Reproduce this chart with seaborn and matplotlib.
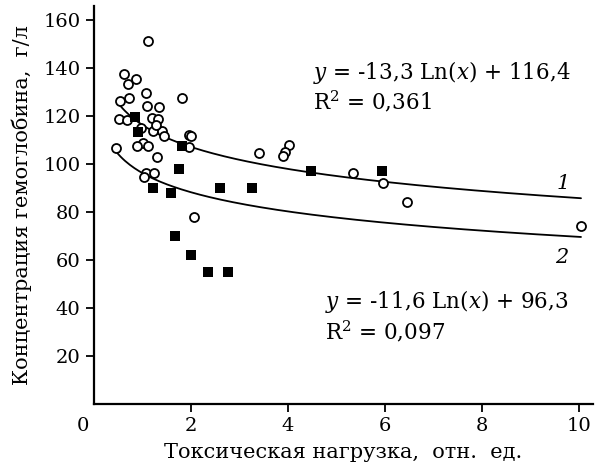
import numpy as np
import pandas as pd
import seaborn as sns
import matplotlib.pyplot as plt
from matplotlib.transforms import ScaledTranslation

# group 1 (open circles)
circle_x = [1.12, 0.63, 0.72, 0.87, 1.08, 0.55, 0.73, 1.82, 1.11, 1.34,
            0.53, 0.70, 1.20, 1.32, 0.98, 1.22, 1.42, 1.45, 1.01, 0.90,
            1.13, 0.46, 1.30, 1.97, 2.02, 1.97, 1.08, 1.04, 1.25, 2.08,
            1.29, 3.41, 4.04, 3.95, 3.91, 5.34, 5.96, 6.47, 10.05]
circle_y = [151.4, 137.6, 133.4, 135.4, 129.8, 126.4, 127.4, 127.6, 124.2, 123.7,
            118.8, 118.4, 119.1, 118.7, 114.9, 113.8, 113.8, 111.7, 108.9, 107.6,
            107.6, 106.7, 102.8, 112.1, 111.7, 107.2, 96.1, 94.4, 96.1, 78.0,
            116.4, 104.7, 107.9, 105.1, 103.3, 96.1, 92.2, 84.3, 74.1]

# group 2 (filled squares)
square_x = [0.86, 0.92, 1.82, 1.77, 1.23, 1.59, 2.61, 1.67, 2.02, 2.37,
            2.77, 3.26, 4.48, 5.94]
square_y = [119.5, 113.5, 107.5, 97.8, 89.9, 88.0, 90.1, 69.9, 62.0, 54.8,
            54.8, 90.1, 97.1, 97.1]

# log trend lines: y = a*ln(x) + b
fit1 = (-13.3, 116.4)
fit2 = (-11.6, 96.3)
fit1_range = (0.55, 10.05)
fit2_range = (0.46, 10.05)

x_ticks = [0, 2, 4, 6, 8, 10]
y_ticks = [20, 40, 60, 80, 100, 120, 140, 160]

sns.set_style("ticks")
plt.rcParams['font.family'] = ['DejaVu Serif']
plt.rcParams['mathtext.fontset'] = 'dejavuserif'
plt.rcParams['text.color'] = 'black'
plt.rcParams['axes.labelcolor'] = 'black'

fig = plt.figure(figsize=(6.01, 4.66), dpi=100)
ax = fig.add_axes([0.1556, 0.1341, 0.8313, 0.8532])

for (a, b), (x0, x1) in [(fit1, fit1_range), (fit2, fit2_range)]:
    xs = np.linspace(x0, x1, 200)
    trend = pd.DataFrame({'x': xs, 'y': a * np.log(xs) + b})
    sns.lineplot(data=trend, x='x', y='y', color='black', linewidth=1.3,
                 ax=ax, zorder=1)

sns.scatterplot(x=circle_x, y=circle_y, marker='o', s=42, facecolor='white',
                edgecolor='black', linewidth=1.3, ax=ax, zorder=2)
sns.scatterplot(x=square_x, y=square_y, marker='s', s=50, color='black',
                edgecolor='black', linewidth=0, ax=ax, zorder=3)

ax.set_xlim(0, 10.3)
ax.set_ylim(0, 166)
ax.set_xticks(x_ticks)
ax.set_xticklabels([str(t) for t in x_ticks])
ax.set_yticks(y_ticks)
ax.set_yticklabels([str(t) for t in y_ticks])

sns.despine(ax=ax)
for side in ['left', 'bottom']:
    ax.spines[side].set_linewidth(1.6)
    ax.spines[side].set_color('black')
ax.tick_params(axis='both', direction='out', length=6, width=1.3,
               labelsize=14, colors='black')

# origin label sits left of the corner, no tick mark there
first = ax.xaxis.get_major_ticks()[0]
first.tick1line.set_visible(False)
first.label1.set_transform(first.label1.get_transform() +
                           ScaledTranslation(-11 / 100, 0, fig.dpi_scale_trans))

ax.set_xlabel("Токсическая нагрузка,  отн.  ед.", fontsize=15, labelpad=6)
ax.set_ylabel("Концентрация гемоглобина,  г/л", fontsize=15, labelpad=8)

ax.text(4.53, 138, r"$y$ = -13,3 Ln($x$) + 116,4", fontsize=15.5, va='center')
ax.text(4.53, 126, r"R$^2$ = 0,361", fontsize=15.5, va='center')
ax.text(4.77, 42.4, r"$y$ = -11,6 Ln($x$) + 96,3", fontsize=15.5, va='center')
ax.text(4.77, 30, r"R$^2$ = 0,097", fontsize=15.5, va='center')

ax.text(9.68, 92, "1", fontsize=15, style='italic', ha='center', va='center')
ax.text(9.66, 61, "2", fontsize=15, style='italic', ha='center', va='center')

fig.savefig("out.png", dpi=100)
